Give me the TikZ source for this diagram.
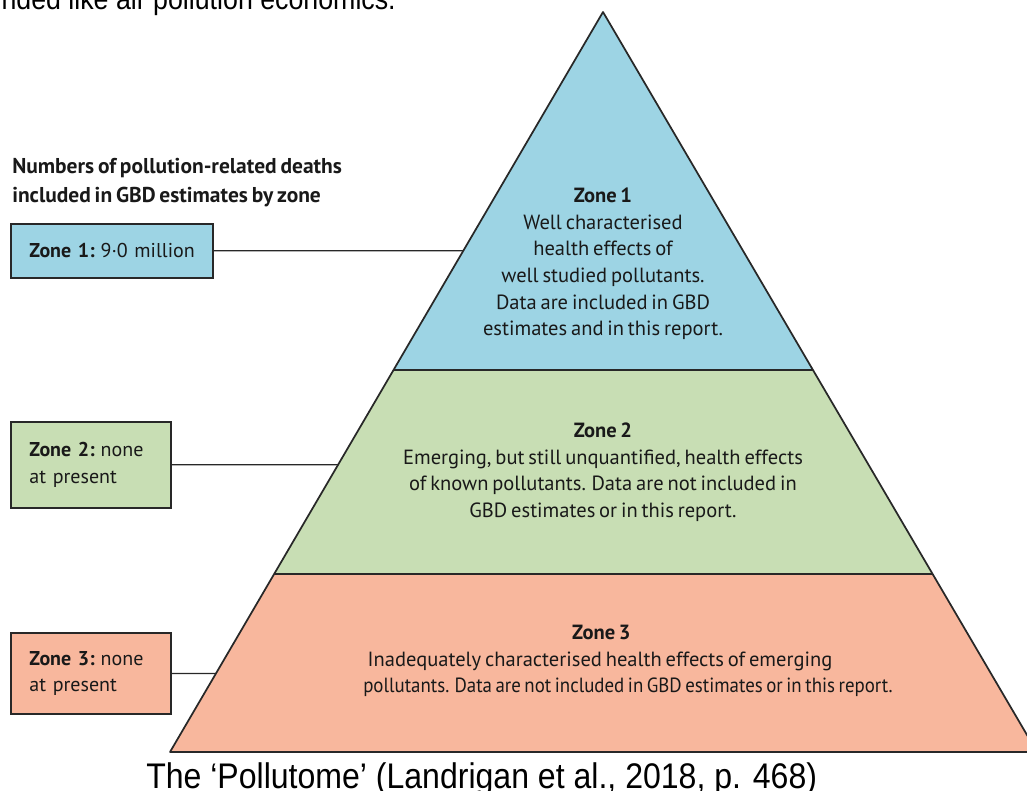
\documentclass[tikz,border=0pt]{standalone}
\usepackage{fontspec}
\usepackage{graphicx}
\setmainfont[WordSpace=0.7]{PT Sans}
\newfontfamily\captionfont{Liberation Sans}
\usetikzlibrary{calc}
\definecolor{zoneblue}{RGB}{157,212,228}
\definecolor{zonegreen}{RGB}{200,222,180}
\definecolor{zonesalmon}{RGB}{248,183,157}
\definecolor{edgegray}{RGB}{40,40,40}
\tikzset{
    zonebox/.style={draw=edgegray, line width=1.2pt, anchor=north west,
        align=left, inner xsep=14pt, text=black!90, font=\fontsize{15}{20}\selectfont},
    zonetext/.style={align=center, text=black!90, font=\fontsize{15.4}{19.9}\selectfont},
    leader/.style={draw=edgegray, line width=1pt},
    outline/.style={draw=edgegray, line width=1.3pt, line join=round},
    sidetext/.style={font=\captionfont, inner sep=0pt}
}
\begin{document}
\begin{tikzpicture}[x=0.75pt,y=-0.75pt]
        % Define dimensions
        \def\cutA{0.4838}
        \def\cutB{0.7595}
        \useasboundingbox (0,0) rectangle (1027,790);
        \clip (0,0) rectangle (1027,790);
        % Corners of the pyramid
        \coordinate (apex) at (603,12);
        \coordinate (bl) at (170,752);
        \coordinate (br) at (1037,752);
        \coordinate (l1) at ($(apex)!\cutA!(bl)$);
        \coordinate (r1) at ($(apex)!\cutA!(br)$);
        \coordinate (l2) at ($(apex)!\cutB!(bl)$);
        \coordinate (r2) at ($(apex)!\cutB!(br)$);
        % Fill the three zones
        \fill[zoneblue] (apex) -- (r1) -- (l1) -- cycle;
        \fill[zonegreen] (l1) -- (r1) -- (r2) -- (l2) -- cycle;
        \fill[zonesalmon] (l2) -- (r2) -- (br) -- (bl) -- cycle;
        \draw[outline] (apex) -- (br) -- (bl) -- cycle;
        \draw[outline] (l1) -- (r1);
        \draw[outline] (l2) -- (r2);
        % Texts inside the pyramid
        \node[zonetext] (zone1) at (603,264) {\textbf{Zone 1}\\Well characterised\\health effects of\\well studied pollutants.\\Data are included in GBD\\estimates and in this report.};
        \node[zonetext] (zone2) at (603,472) {\textbf{Zone 2}\\Emerging, but still unquantified, health effects\\of known pollutants. Data are not included in\\GBD estimates or in this report.};
        \node[zonetext] (zone3) at (628,661) {\hspace*{-40pt}\textbf{Zone 3}\\\hspace*{-42pt}Inadequately characterised health effects of emerging\\\scalebox{0.92}[1]{pollutants. Data are not included in GBD estimates or in this report.}};
        % Boxes on the left
        \node[anchor=base west, align=left, inner sep=0pt, text=black!90, font=\bfseries\fontsize{16.1}{21.75}\selectfont] (heading) at (12,202) {Numbers of pollution-related deaths\\included in GBD estimates by zone};
        \node[zonebox, fill=zoneblue, minimum width=151.5pt, minimum height=40.5pt, text width=123.5pt] (box1) at (10,223) {\mbox{\textbf{Zone 1:}\hspace{0.3em}9·0 million}};
        \node[zonebox, fill=zonegreen, minimum width=120pt, minimum height=64.5pt, text width=92pt] (box2) at (10,421) {\textbf{Zone 2:}\hspace{0.3em}none\\at present};
        \node[zonebox, fill=zonesalmon, minimum width=120pt, minimum height=61pt, text width=92pt] (box3) at (10,632) {\textbf{Zone 3:}\hspace{0.3em}none\\at present};
        % Leader lines to the pyramid
        \foreach \i in {1,2,3} {
            \coordinate (h\i) at ($(box\i.east)+(100,0)$);
            \coordinate (e\i) at (intersection of apex--bl and box\i.east--h\i);
            \draw[leader] (box\i.east) -- (e\i);
        }
        % Text cut at the top and caption
        \node[sidetext, anchor=base east] (toptext) at (396,9) {\fontsize{22.3}{24}\selectfont\scalebox{0.9}[1]{nded like air pollution economics.}};
        \node[sidetext, anchor=base west] (caption) at (146,788) {\fontsize{26.7}{28}\selectfont\scalebox{0.9}[1]{The ‘Pollutome’ (Landrigan et al., 2018, p. 468)}};
    \end{tikzpicture}
\end{document}
